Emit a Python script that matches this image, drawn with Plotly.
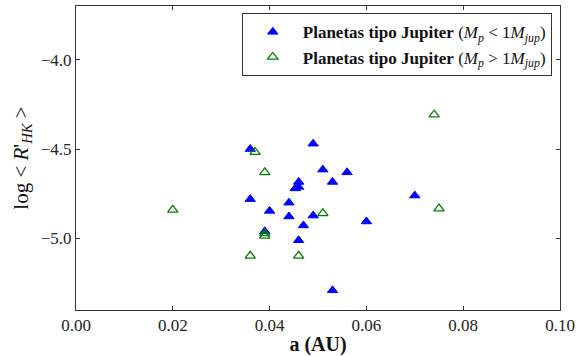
import plotly.graph_objects as go

# Planets with Mp < 1 Mjup (filled blue triangles)
a_low = [0.036, 0.049, 0.051, 0.056, 0.053, 0.046, 0.0453, 0.046, 0.036, 0.044,
         0.040, 0.044, 0.049, 0.047, 0.039, 0.046, 0.053, 0.060, 0.070]
r_low = [-4.50, -4.47, -4.615, -4.63, -4.684, -4.684, -4.72, -4.712, -4.78, -4.80,
         -4.846, -4.877, -4.872, -4.927, -4.96, -5.01, -5.29, -4.905, -4.76]

# Planets with Mp > 1 Mjup (open green triangles)
a_high = [0.037, 0.039, 0.020, 0.051, 0.039, 0.039, 0.036, 0.046, 0.074, 0.075]
r_high = [-4.517, -4.63, -4.84, -4.86, -4.972, -4.985, -5.097, -5.097, -4.308, -4.833]

x_ticks = [0.00, 0.02, 0.04, 0.06, 0.08, 0.10]
x_ticktext = ["0.00", "0.02", "0.04", "0.06", "0.08", "0.10"]
y_ticks = [-4.0, -4.5, -5.0]
y_ticktext = ["\u22124.0", "\u22124.5", "\u22125.0"]

serif = "Liberation Serif"

fig = go.Figure()
fig.add_trace(go.Scatter(
    x=a_low, y=r_low, mode="markers",
    name="<b>Planetas tipo Jupiter</b> (<i>M</i><sub><i>p</i></sub> &lt; 1<i>M</i><sub><i>jup</i></sub>)",
    marker=dict(symbol="triangle-up", size=9, color="#0000ff",
                line=dict(color="#0000ff", width=1)),
))
fig.add_trace(go.Scatter(
    x=a_high, y=r_high, mode="markers",
    name="<b>Planetas tipo Jupiter</b> (<i>M</i><sub><i>p</i></sub> &gt; 1<i>M</i><sub><i>jup</i></sub>)",
    marker=dict(symbol="triangle-up-open", size=9, color="#008000",
                line=dict(color="#008000", width=1.3)),
))

axis_common = dict(
    showline=True, mirror="ticks", linecolor="#333333", linewidth=1,
    ticks="inside", ticklen=4, tickcolor="#333333", tickwidth=1,
    showgrid=False, zeroline=False,
    tickfont=dict(family=serif, size=17, color="#222222"),
)

fig.update_layout(
    width=587, height=356,
    margin=dict(l=76, r=27, t=5, b=43),
    paper_bgcolor="white", plot_bgcolor="white",
    font=dict(family=serif),
    xaxis=dict(range=[0, 0.1], tickvals=x_ticks, ticktext=x_ticktext,
               title=dict(text="<b>a (AU)</b>", font=dict(family=serif, size=20, color="#111111"),
                          standoff=2),
               **axis_common),
    yaxis=dict(range=[-5.4, -3.7], tickvals=y_ticks, ticktext=y_ticktext,
               title=dict(text="log &lt; <i>R</i>'<sub><i>HK</i></sub> &gt;",
                          font=dict(family=serif, size=21, color="#111111"), standoff=6),
               **axis_common),
    legend=dict(x=0.983, y=0.976, xanchor="right", yanchor="top",
                bgcolor="white", bordercolor="#333333", borderwidth=1,
                font=dict(family=serif, size=17, color="#111111"),
                itemwidth=50, tracegroupgap=0),
    showlegend=True,
)

fig.write_html("out.html", config={"displayModeBar": False},
               post_script="document.body.style.margin='0';")
